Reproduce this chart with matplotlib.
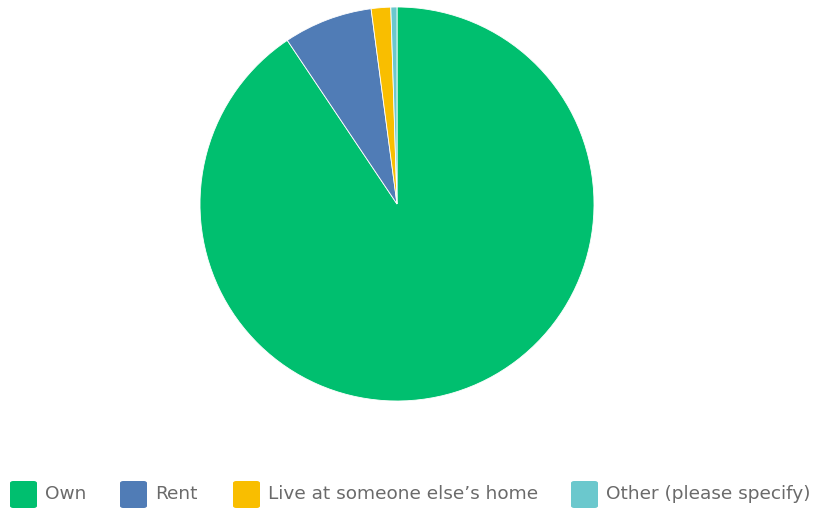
import matplotlib.pyplot as plt
from matplotlib.patches import FancyBboxPatch

labels = ['Own', 'Rent', "Live at someone else\u2019s home", 'Other (please specify)']
shares = [90.6, 7.3, 1.6, 0.5]
colors = ['#00BF6F', '#507CB6', '#F9BE00', '#6BC8CD']

fig = plt.figure(figsize=(8.2, 5.12), dpi=100)
ax = fig.add_axes([200 / 820, 111 / 512, 394 / 820, 394 / 512])
ax.pie(shares, colors=colors, startangle=90, counterclock=False, radius=1,
       wedgeprops={'linewidth': 0.6, 'edgecolor': 'white'})
ax.set_xlim(-1, 1)
ax.set_ylim(-1, 1)
ax.set_aspect('equal')
ax.axis('off')

# legend drawn by hand: rounded squares + labels
box_x = [10, 120, 233, 571]
for x, lab, c in zip(box_x, labels, colors):
    fig.patches.append(FancyBboxPatch((x / 820, (512 - 508) / 512), 27 / 820, 27 / 512,
                                      boxstyle='round,pad=0,rounding_size=0.004',
                                      transform=fig.transFigure, facecolor=c, edgecolor='none'))
    fig.text((x + 35) / 820, (512 - 494) / 512, lab, fontsize=13.3, color='#6a6a6a',
             va='center', ha='left')

fig.savefig('out.png', dpi=100)
